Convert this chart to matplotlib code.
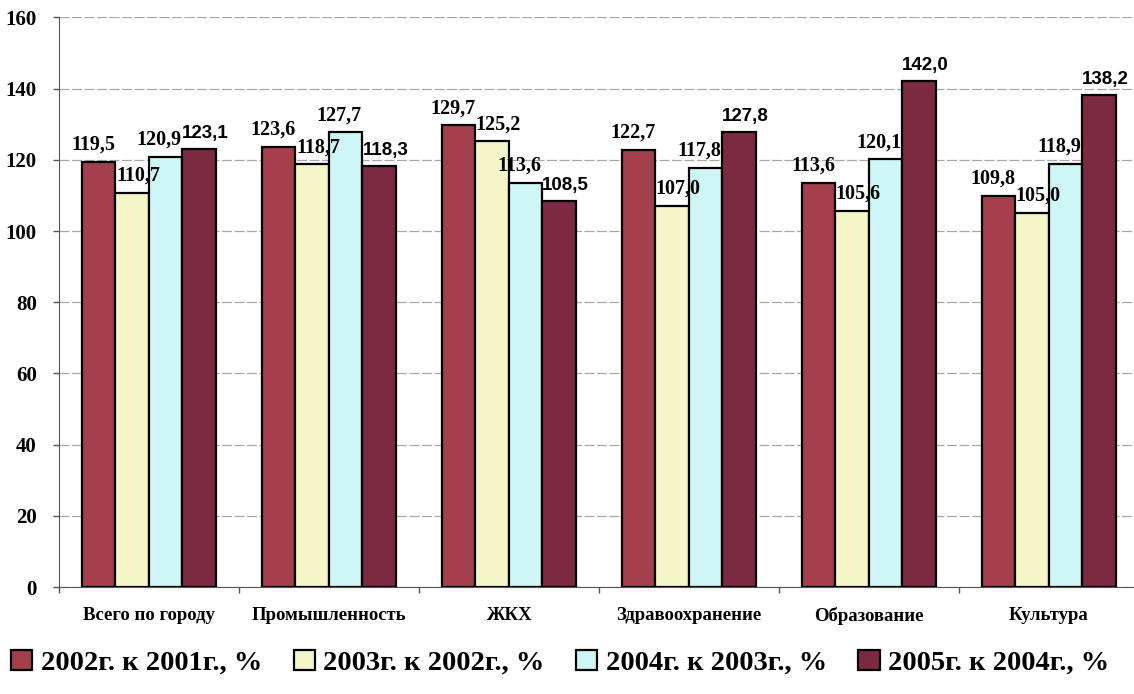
import numpy as np
import matplotlib.pyplot as plt
from matplotlib.ticker import MultipleLocator

categories = ['Всего по городу', 'Промышленность', 'ЖКХ',
              'Здравоохранение', 'Образование', 'Культура']
series_names = ['2002г. к 2001г., %', '2003г. к 2002г., %',
                '2004г. к 2003г., %', '2005г. к 2004г., %']
v2002 = [119.5, 123.6, 129.7, 122.7, 113.6, 109.8]
v2003 = [110.7, 118.7, 125.2, 107.0, 105.6, 105.0]
v2004 = [120.9, 127.7, 113.6, 117.8, 120.1, 118.9]
v2005 = [123.1, 118.3, 108.5, 127.8, 142.0, 138.2]

colors = ['#A3404C', '#F4F6C8', '#CFF6F6', '#7B2A42']
serif = ['Liberation Serif', 'DejaVu Serif']
sans = ['Liberation Sans', 'DejaVu Sans']

fig = plt.figure(figsize=(11.34, 6.94), dpi=100)
ax = fig.add_axes([0.052, 0.154, 0.952, 0.821])

ind = np.arange(len(categories))
width = 0.186
allvals = [v2002, v2003, v2004, v2005]
# small sideways nudge of the value labels, like in the original
nudge = [-0.03, 0.035, -0.035, 0.035]

rects = []
for i, vals in enumerate(allvals):
    r = ax.bar(ind + (i - 1.5) * width, vals, width, color=colors[i],
               edgecolor='black', linewidth=1.6, zorder=3)
    rects.append(r)
    for rect, v in zip(r, vals):
        lab = ('%.1f' % v).replace('.', ',')
        if i == 3:
            fam, fs = sans, 13.5
        else:
            fam, fs = serif, 14.5
        ax.text(rect.get_x() + rect.get_width() / 2. + nudge[i], v + 2.0, lab,
                ha='center', va='bottom', fontsize=fs, fontweight='bold',
                family=fam, zorder=4)

ax.set_xlim(-0.5, len(categories) - 0.5)
ax.set_ylim(0, 160)
ax.yaxis.set_major_locator(MultipleLocator(20))
ax.yaxis.grid(True, color='#a8a8a8', linewidth=0.9, linestyle=(0, (8, 2)), zorder=0)
ax.set_axisbelow(True)

ax.set_xticks(ind)
ax.set_xticklabels(categories, fontsize=13.5, fontweight='bold', family=serif)
ax.tick_params(axis='x', length=0, pad=14)
ax.set_xticks(np.arange(len(categories) + 1) - 0.5, minor=True)
ax.tick_params(axis='x', which='minor', length=4, width=1, color='#555555')
ax.tick_params(axis='y', length=4, width=1, color='#555555', pad=12)
for t in ax.get_yticklabels():
    t.set_fontsize(15)
    t.set_fontweight('bold')
    t.set_family(serif)

for s in ['top', 'right']:
    ax.spines[s].set_visible(False)
ax.spines['left'].set_color('#555555')
ax.spines['bottom'].set_color('#555555')

fig.legend([r[0] for r in rects], series_names, loc='center',
           bbox_to_anchor=(0.494, 0.045), ncol=4, frameon=False,
           prop={'family': serif, 'weight': 'bold', 'size': 20.5},
           handlelength=0.75, handleheight=0.75, handletextpad=0.3,
           columnspacing=1.1)

fig.savefig('out.png', dpi=100)
